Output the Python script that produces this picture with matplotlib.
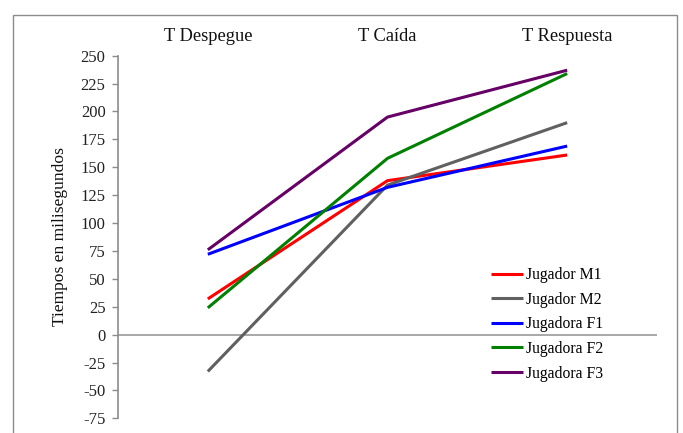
import matplotlib
matplotlib.use("Agg")
import matplotlib.pyplot as plt
from matplotlib.patches import Rectangle

categories = ["T Despegue", "T Caída", "T Respuesta"]
series_names = ["Jugador M1", "Jugador M2", "Jugadora F1", "Jugadora F2", "Jugadora F3"]
m1 = [32, 138, 161]
m2 = [-33, 134, 190]
f1 = [72, 132, 169]
f2 = [24, 158, 234]
f3 = [76, 195, 237]
yticks = [-75, -50, -25, 0, 25, 50, 75, 100, 125, 150, 175, 200, 225, 250]
colors = ["#FF0000", "#606060", "#0000FF", "#008000", "#660066"]

plt.rcParams['font.family'] = ['Liberation Serif', 'DejaVu Serif']

fig = plt.figure(figsize=(6.83, 4.33), dpi=100)
fig.patches.append(Rectangle((13/683, -0.05), (677-13)/683, 1.05 - 15/433,
                             transform=fig.transFigure, fill=False,
                             edgecolor="#8c8c8c", linewidth=1.0))
ax = fig.add_axes([118/683, 1-418.3/433, (657-118)/683, (418.3-55.7)/433])

xs = [0.5, 1.5, 2.5]
for name, vals, c in zip(series_names, [m1, m2, f1, f2, f3], colors):
    ax.plot(xs, vals, color=c, linewidth=2.2, label=name, solid_capstyle='butt')

ax.set_xlim(0, 3)
ax.set_ylim(-75, 250)
ax.set_yticks(yticks)
ax.set_yticklabels([str(v) for v in yticks], fontsize=12, color="#222222")
ax.tick_params(axis='y', direction='out', length=4, color="#8c8c8c", width=1.0, pad=5)
ax.axhline(0, color="#9a9a9a", linewidth=1.2, zorder=0.5)

ax.xaxis.tick_top()
ax.set_xticks(xs)
ax.set_xticklabels(categories, fontsize=13.3, color="#111111")
ax.tick_params(axis='x', length=0, pad=8)

for s in ["top", "right", "bottom"]:
    ax.spines[s].set_visible(False)
ax.spines["left"].set_color("#8c8c8c")
ax.spines["left"].set_linewidth(1.2)

ax.set_ylabel("Tiempos en milisegundos", fontsize=12.6, color="#111111", labelpad=9)

leg = ax.legend(loc="upper left", bbox_to_anchor=(491/683, 1-267/433),
                bbox_transform=fig.transFigure, frameon=False, fontsize=11.3,
                handlelength=2.05, handletextpad=0.15, labelspacing=0.55,
                borderaxespad=0, borderpad=0)

fig.savefig("out.png", dpi=100)
